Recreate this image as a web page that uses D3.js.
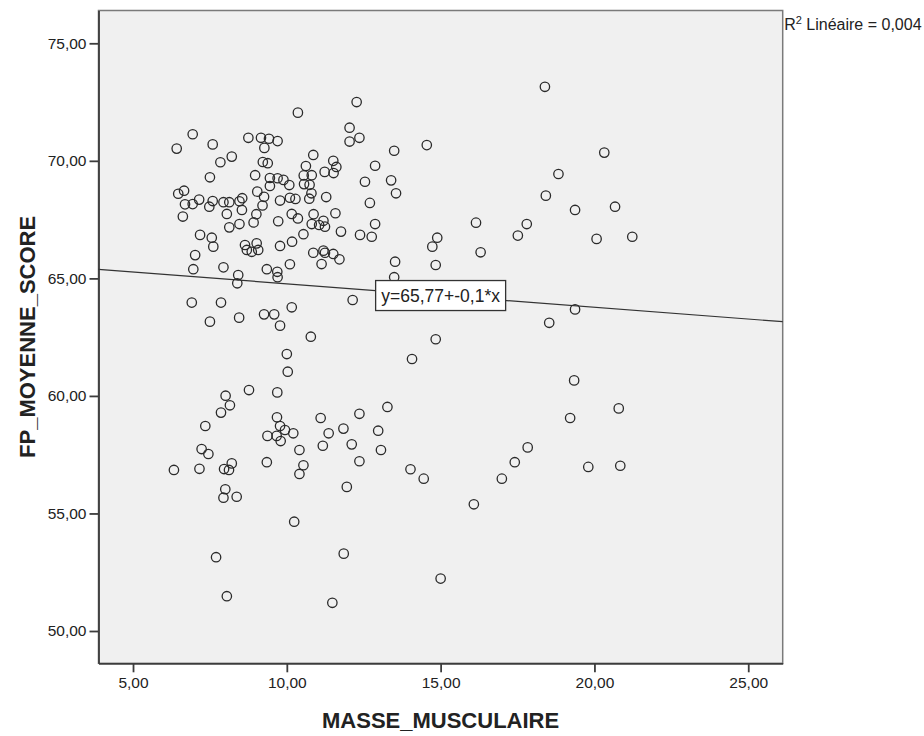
<!DOCTYPE html>
<html>
<head>
<meta charset="utf-8">
<script src="https://cdn.jsdelivr.net/npm/d3@7"></script>
<style>
  body { margin: 0; background: #fff; }
  text { font-family: "Liberation Sans", Arial, sans-serif; fill: #222; }
</style>
</head>
<body>
<div class="chart"></div>
<script>
// values, one entry per subject
var masse = [6.94,6.42,7.59,8.75,9.16,9.42,9.70,9.27,8.21,7.84,9.22,9.38,7.50,8.97,9.45,9.70,9.45,6.47,6.66,9.04,
  9.26,6.69,6.94,7.15,7.48,7.59,7.94,8.13,8.46,8.55,9.21,8.54,8.05,6.62,9.01,9.78,10.10,10.28,
  12.27,10.36,12.04,12.04,12.36,10.86,11.51,11.61,11.23,11.52,10.62,10.55,10.81,10.56,10.74,10.80,10.73,11.28,12.87,12.54,
  13.39,12.70,9.89,10.08,10.16,10.87,11.58,
  8.13,8.46,8.92,9.72,10.36,7.18,7.56,7.61,8.64,8.70,8.86,9.02,9.07,9.78,10.17,7.02,6.96,7.94,8.42,8.39,
  9.35,9.69,9.70,10.10,6.91,7.86,7.50,8.45,9.26,9.59,9.78,10.16,
  10.81,11.05,11.19,11.24,11.76,12.38,12.76,12.87,10.54,10.86,11.19,11.24,11.51,11.71,11.13,13.52,13.49,12.14,10.78,
  10.00,10.03,14.07,8.01,8.15,7.86,8.77,9.69,7.35,9.68,9.78,9.94,10.21,9.37,9.67,9.80,10.41,11.10,11.36,11.84,
  12.36,13.27,12.97,11.17,12.11,13.06,12.36,14.02,7.23,7.45,6.33,7.16,7.96,8.12,8.21,9.35,10.54,10.41,8.00,7.94,
  8.37,11.95,10.24,7.70,11.85,8.05,11.48,
  18.39,14.55,13.49,13.55,20.32,18.83,18.42,19.37,20.67,16.15,17.80,17.51,14.89,14.73,16.30,14.84,20.07,21.23,19.37,18.53,
  14.84,
  19.34,20.79,19.21,17.83,17.41,16.99,14.45,16.08,19.80,20.84,15.00];

var score = [71.13,70.52,70.70,70.98,70.98,70.94,70.84,70.55,70.18,69.94,69.95,69.90,69.30,69.39,69.27,69.26,68.93,68.60,68.73,68.69,
  68.47,68.15,68.16,68.35,68.05,68.29,68.24,68.24,68.28,68.41,68.10,67.91,67.74,67.63,67.73,68.31,68.43,68.38,
  72.50,72.05,71.41,70.82,70.98,70.25,70.00,69.74,69.53,69.48,69.78,69.38,69.39,69.01,68.98,68.62,68.39,68.46,69.79,69.11,
  69.17,68.21,69.19,68.97,67.74,67.73,67.77,
  67.17,67.31,67.38,67.43,67.55,66.85,66.73,66.35,66.42,66.21,66.13,66.49,66.21,66.38,66.56,65.99,65.39,65.47,65.14,64.79,
  65.39,65.28,65.05,65.60,63.97,63.97,63.16,63.33,63.47,63.47,62.99,63.77,
  67.31,67.27,67.45,67.20,66.99,66.85,66.77,67.31,66.88,66.09,66.18,66.09,66.04,65.81,65.61,65.71,65.05,64.08,62.52,
  61.78,61.03,61.57,60.01,59.60,59.29,60.25,60.15,58.72,59.09,58.72,58.55,58.41,58.30,58.30,58.08,57.70,59.06,58.41,58.61,
  59.24,59.53,58.52,57.88,57.94,57.70,57.22,56.88,57.74,57.53,56.85,56.90,56.89,56.85,57.13,57.18,57.05,56.68,56.03,55.67,
  55.71,56.13,54.65,53.14,53.29,51.48,51.20,
  73.15,70.67,70.43,68.62,70.35,69.44,68.52,67.91,68.05,67.37,67.31,66.82,66.73,66.35,66.11,65.57,66.68,66.77,63.68,63.11,
  62.41,
  60.66,59.47,59.06,57.81,57.18,56.48,56.48,55.39,56.98,57.03,52.23];

var xTicks = [5, 10, 15, 20, 25];
var yTicks = [50, 55, 60, 65, 70, 75];

// fit line as printed by SPSS
var intercept = 65.77;
var slope = -0.1;
var fitLabel = "y=65,77+-0,1*x";
var r2Label = "0,004";

var xTitle = "MASSE_MUSCULAIRE";
var yTitle = "FP_MOYENNE_SCORE";

var width = 924, height = 736;
var plot = { left: 98.5, top: 10.5, right: 782.7, bottom: 663.3 };

var svg = d3.select('.chart')
  .append('svg')
    .attr('width', width)
    .attr('height', height);

var x = d3.scaleLinear()
  .domain([3.878, 26.12])
  .range([plot.left, plot.right]);

var y = d3.scaleLinear()
  .domain([48.626, 76.395])
  .range([plot.bottom, plot.top]);

// french decimal comma
var fmt = function(d) { return d3.format('.2f')(d).replace('.', ','); };

svg.append('rect')
  .attr('x', plot.left)
  .attr('y', plot.top)
  .attr('width', plot.right - plot.left)
  .attr('height', plot.bottom - plot.top)
  .attr('fill', '#f0f0f0')
  .attr('stroke', '#7a7a7a')
  .attr('stroke-width', 1.5);

var xAxis = svg.append('g')
  .attr('transform', 'translate(0,' + plot.bottom + ')')
  .call(d3.axisBottom(x).tickValues(xTicks).tickFormat(fmt).tickSize(9).tickSizeOuter(0));

var yAxis = svg.append('g')
  .attr('transform', 'translate(' + plot.left + ',0)')
  .call(d3.axisLeft(y).tickValues(yTicks).tickFormat(fmt).tickSize(9).tickSizeOuter(0));

[xAxis, yAxis].forEach(function(ax) {
  ax.select('.domain').attr('stroke', '#3c3c3c').attr('stroke-width', 1.8);
  ax.selectAll('.tick line').attr('stroke', '#3c3c3c').attr('stroke-width', 1.8);
  ax.selectAll('.tick text')
    .attr('font-family', '"Liberation Sans", Arial, sans-serif')
    .attr('font-size', 15.5)
    .attr('fill', '#222');
});
xAxis.selectAll('.tick text').attr('y', 14);
yAxis.selectAll('.tick text').attr('x', -12);

// regression line across the whole frame
var xd = x.domain();
svg.append('line')
  .attr('x1', x(xd[0])).attr('y1', y(intercept + slope * xd[0]))
  .attr('x2', x(xd[1])).attr('y2', y(intercept + slope * xd[1]))
  .attr('stroke', '#333')
  .attr('stroke-width', 1.2);

var points = masse.map(function(m, i) { return { m: m, s: score[i] }; });

svg.append('g')
  .selectAll('circle')
  .data(points)
  .enter().append('circle')
    .attr('cx', d => x(d.m))
    .attr('cy', d => y(d.s))
    .attr('r', 4.7)
    .attr('fill', 'none')
    .attr('stroke', '#2a2a2a')
    .attr('stroke-width', 1.3);

// equation box, centred on the line at x = 15
var lx = 15;
var lab = svg.append('g')
  .attr('transform', 'translate(' + x(lx) + ',' + y(intercept + slope * lx) + ')');
lab.append('rect')
  .attr('x', -65).attr('y', -15)
  .attr('width', 130).attr('height', 30)
  .attr('fill', '#fff')
  .attr('stroke', '#333')
  .attr('stroke-width', 1.3);
lab.append('text')
  .attr('text-anchor', 'middle')
  .attr('dy', '0.36em')
  .attr('font-size', 17.5)
  .text(fitLabel);

var r2 = svg.append('text')
  .attr('x', plot.right + 1.5)
  .attr('y', 30)
  .attr('font-size', 16);
r2.append('tspan').text('R');
r2.append('tspan').attr('dy', -6).attr('font-size', 11).text('2');
r2.append('tspan').attr('dy', 6).text(' Linéaire = ' + r2Label);

svg.append('text')
  .attr('x', (plot.left + plot.right) / 2)
  .attr('y', 728)
  .attr('text-anchor', 'middle')
  .attr('font-size', 22)
  .attr('font-weight', 'bold')
  .text(xTitle);

svg.append('text')
  .attr('transform', 'translate(35,' + (plot.top + plot.bottom) / 2 + ') rotate(-90)')
  .attr('text-anchor', 'middle')
  .attr('font-size', 22)
  .attr('font-weight', 'bold')
  .text(yTitle);
</script>
</body>
</html>
